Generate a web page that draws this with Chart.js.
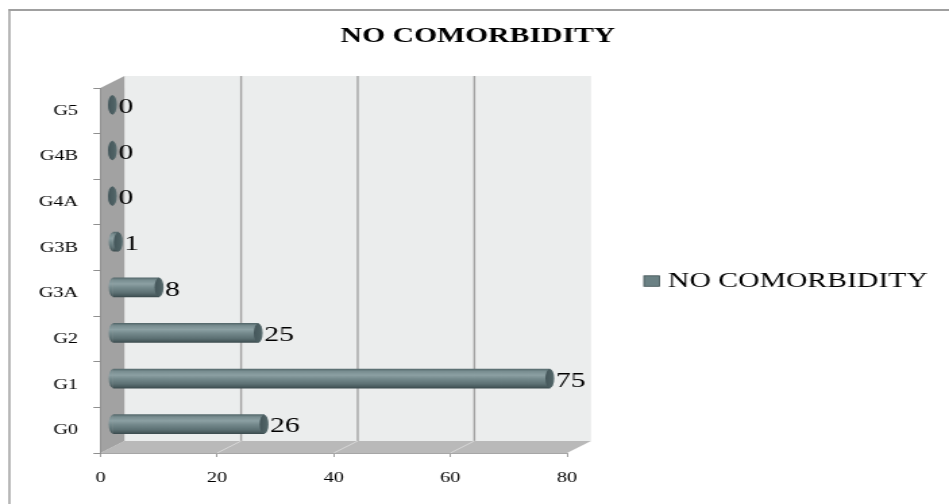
<!DOCTYPE html>
<html>
<head>
<meta charset="utf-8">
<title>NO COMORBIDITY</title>
<script src="https://cdn.jsdelivr.net/npm/chart.js@4.4.1/dist/chart.umd.min.js"></script>
<style>
  html, body { margin: 0; padding: 0; background: #fff; overflow: hidden; }
</style>
</head>
<body>
<!-- drawing surface is 703 units wide, shown 949px wide (wide-aspect export) -->
<canvas id="chart" width="703" height="504" style="display:block;width:949px;height:504px;"></canvas>
<script>
// ---- data ----
const categories = ['G0', 'G1', 'G2', 'G3A', 'G3B', 'G4A', 'G4B', 'G5'];
const seriesName = 'NO COMORBIDITY';
const patients = [26, 75, 25, 8, 1, 0, 0, 0];
const xTicks = [0, 20, 40, 60, 80];

// ---- look ----
const SERIF = "'Liberation Serif', 'Times New Roman', serif";
const DEPTH_X = 17.8;   // 3D depth offset of the back wall
const DEPTH_Y = -12;
const BAR_H = 19;       // cylinder diameter
const CAP_RX = 3.3;     // horizontal radius of the cylinder ends
const BAR_COLOR = '#6b8184';

function cylinderGradient(ctx, yc, r) {
  const g = ctx.createLinearGradient(0, yc - r, 0, yc + r);
  g.addColorStop(0.00, '#566a6d');
  g.addColorStop(0.12, '#788d90');
  g.addColorStop(0.32, '#8ca0a3');
  g.addColorStop(0.52, '#74898c');
  g.addColorStop(0.78, '#5d7174');
  g.addColorStop(0.92, '#4a5c5f');
  g.addColorStop(1.00, '#3c4c4f');
  return g;
}

function poly(ctx, pts) {
  ctx.beginPath();
  ctx.moveTo(pts[0][0], pts[0][1]);
  for (let i = 1; i < pts.length; i++) ctx.lineTo(pts[i][0], pts[i][1]);
  ctx.closePath();
  ctx.fill();
}

function line(ctx, x1, y1, x2, y2) {
  ctx.beginPath();
  ctx.moveTo(x1, y1);
  ctx.lineTo(x2, y2);
  ctx.stroke();
}

// walls, floor, cylinder ends, value labels and legend
const frame3d = {
  id: 'frame3d',
  beforeDraw(chart) {
    const { ctx, chartArea: a, scales: { x } } = chart;
    const L = a.left, R = a.right, T = a.top, B = a.bottom;
    const dx = DEPTH_X, dy = DEPTH_Y;
    ctx.save();
    ctx.fillStyle = '#ffffff';
    ctx.fillRect(0, 0, chart.width, chart.height);

    // outer frame
    ctx.fillStyle = '#a0a0a0';
    ctx.fillRect(6.2, 9, chart.width, 2);
    ctx.fillRect(6.2, 9, 1.5, chart.height);

    // back wall
    ctx.fillStyle = '#ebeded';
    ctx.fillRect(L + dx, T + dy, R - L, B - T);

    const inner = x.ticks.filter(t => t.value > x.min && t.value < x.max);

    // gridlines on the back wall
    ctx.strokeStyle = '#a3a3a3';
    ctx.lineWidth = 1.4;
    inner.forEach(t => {
      const px = x.getPixelForValue(t.value) + dx;
      line(ctx, px, T + dy, px, B + dy);
    });

    // floor
    ctx.fillStyle = '#b9b9b9';
    poly(ctx, [[L, B], [R, B], [R + dx, B + dy], [L + dx, B + dy]]);
    ctx.strokeStyle = '#d8d8d8';
    ctx.lineWidth = 1;
    inner.forEach(t => {
      const px = x.getPixelForValue(t.value);
      line(ctx, px, B, px + dx, B + dy);
    });

    // side wall
    ctx.fillStyle = '#a2a2a2';
    poly(ctx, [[L, T], [L + dx, T + dy], [L + dx, B + dy], [L, B]]);
    ctx.restore();
  },
  beforeDatasetsDraw(chart) {
    // bars sit half way into the depth of the plot box
    chart.ctx.save();
    chart.ctx.translate(DEPTH_X / 2, DEPTH_Y / 2);
  },
  afterDatasetsDraw(chart) {
    const ctx = chart.ctx;
    const meta = chart.getDatasetMeta(0);
    const r = BAR_H / 2;
    meta.data.forEach(bar => {
      const { x, y, base } = bar.getProps(['x', 'y', 'base'], true);
      if (![x, y, base].every(Number.isFinite)) return;
      // rounded start of the cylinder
      ctx.fillStyle = cylinderGradient(ctx, y, r);
      ctx.beginPath();
      ctx.ellipse(base, y, CAP_RX, r, 0, Math.PI / 2, Math.PI * 1.5);
      ctx.fill();
      // end face
      const cap = ctx.createLinearGradient(x - CAP_RX, 0, x + CAP_RX, 0);
      cap.addColorStop(0, '#44565a');
      cap.addColorStop(0.7, '#4f6265');
      cap.addColorStop(1, '#5c7073');
      ctx.fillStyle = cap;
      ctx.beginPath();
      ctx.ellipse(x, y, CAP_RX, r, 0, 0, Math.PI * 2);
      ctx.fill();
    });
    ctx.restore();

    // value labels
    ctx.save();
    ctx.font = '22px ' + SERIF;
    ctx.fillStyle = '#000';
    ctx.textAlign = 'left';
    ctx.textBaseline = 'middle';
    meta.data.forEach((bar, i) => {
      const v = chart.data.datasets[0].data[i];
      ctx.fillText(String(v), bar.x + DEPTH_X / 2 + CAP_RX + 1.2, bar.y + DEPTH_Y / 2 + 2.5);
    });
    ctx.restore();
  },
  afterDraw(chart) {
    const { ctx, chartArea: a } = chart;
    const ds = chart.data.datasets[0];
    const bx = a.right + 57, cy = 281;
    ctx.save();
    ctx.fillStyle = BAR_COLOR;
    ctx.fillRect(bx, cy - 5.2, 11.5, 10.5);
    ctx.strokeStyle = '#3f5053';
    ctx.lineWidth = 0.8;
    ctx.strokeRect(bx, cy - 5.2, 11.5, 10.5);
    ctx.font = '22px ' + SERIF;
    ctx.fillStyle = '#000';
    ctx.textAlign = 'left';
    ctx.textBaseline = 'middle';
    ctx.fillText(ds.label, bx + 17.8, cy);
    ctx.restore();
  }
};

new Chart(document.getElementById('chart'), {
  type: 'bar',
  data: {
    labels: categories,
    datasets: [{
      label: seriesName,
      data: patients,
      xAxisID: 'x',
      yAxisID: 'y',
      barThickness: BAR_H,
      borderWidth: 0,
      backgroundColor: (c) => {
        const ys = c.chart.scales && c.chart.scales.y;
        if (c.type !== 'data' || !ys) return BAR_COLOR;
        const yc = ys.getPixelForValue(c.dataIndex);
        if (!Number.isFinite(yc)) return BAR_COLOR;
        return cylinderGradient(c.chart.ctx, yc, BAR_H / 2);
      }
    }]
  },
  options: {
    indexAxis: 'y',
    responsive: false,
    devicePixelRatio: 1,
    animation: false,
    events: [],
    layout: { padding: { left: 5, right: 0, top: 0, bottom: 0 } },
    plugins: {
      legend: { display: false },
      tooltip: { enabled: false },
      title: {
        display: true,
        text: seriesName,
        color: '#000',
        font: { family: SERIF, size: 22, weight: 'bold' },
        padding: { top: 22.8, bottom: 38.8 }
      }
    },
    scales: {
      x: {
        type: 'linear',
        position: 'bottom',
        min: 0,
        max: 80,
        afterBuildTicks: s => { s.ticks = xTicks.map(v => ({ value: v })); },
        grid: { drawOnChartArea: false, drawTicks: true, tickLength: 4, color: '#a0a0a0' },
        border: { display: true, color: '#a6a6a6' },
        ticks: { font: { family: SERIF, size: 15 }, color: '#000', padding: 12.3, maxRotation: 0 },
        afterFit: s => { s.height = 51; }
      },
      y: {
        type: 'category',
        position: 'left',
        reverse: true,
        offset: true,
        grid: { drawOnChartArea: false, offset: true, tickLength: 5.2, color: '#8f8f8f' },
        border: { display: true, color: '#8f8f8f' },
        ticks: { font: { family: SERIF, size: 15 }, color: '#000', padding: 11.4 },
        afterFit: s => { s.width = 69.4; }
      },
      legendSpace: {
        type: 'linear',
        position: 'right',
        display: true,
        grid: { display: false },
        border: { display: false },
        ticks: { display: false },
        afterFit: s => { s.width = 283; }
      }
    }
  },
  plugins: [frame3d]
});
</script>
</body>
</html>
